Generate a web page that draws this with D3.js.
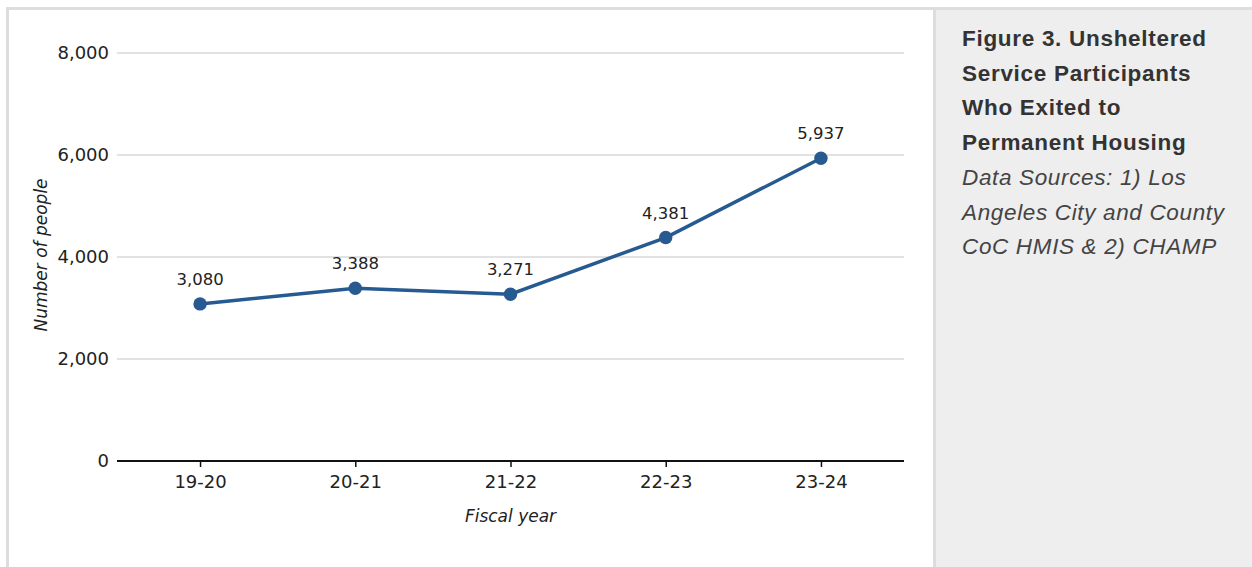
<!DOCTYPE html>
<html><head><meta charset="utf-8">
<script src="https://cdn.jsdelivr.net/npm/d3@7"></script>
<style>
html,body{margin:0;padding:0;background:#fff;}
svg{display:block;}
</style></head>
<body>
<svg id="c" width="1252" height="567"></svg>
<script>
const categories = ["19-20","20-21","21-22","22-23","23-24"];
const values = [3080, 3388, 3271, 4381, 5937];
const yTicks = [0, 2000, 4000, 6000, 8000];
const titleLines = ["Figure 3. Unsheltered","Service Participants","Who Exited to","Permanent Housing"];
const sourceLines = ["Data Sources: 1) Los","Angeles City and County","CoC HMIS & 2) CHAMP"];

const svg = d3.select("#c");
// frame
svg.append("rect").attr("x",0).attr("y",0).attr("width",1252).attr("height",567).attr("fill","#fff");
svg.append("rect").attr("x",935).attr("y",9).attr("width",317).attr("height",558).attr("fill","#eeeeee");
svg.append("rect").attr("x",6).attr("y",7).attr("width",1246).attr("height",3).attr("fill","#dddddd");
svg.append("rect").attr("x",6).attr("y",7).attr("width",3).attr("height",560).attr("fill","#dddddd");
svg.append("rect").attr("x",933).attr("y",7).attr("width",3).attr("height",560).attr("fill","#dddddd");

const x = d3.scalePoint().domain(categories).range([117,904]).padding(0.535);
const y = d3.scaleLinear().domain([0,8000]).range([461,53]);

const font = "'DejaVu Sans', sans-serif";
// gridlines
svg.append("g").selectAll("line").data(yTicks.filter(d=>d>0)).join("line")
  .attr("x1",117).attr("x2",904).attr("y1",d=>y(d)).attr("y2",d=>y(d))
  .attr("stroke","#e2e2e2").attr("stroke-width",2);

// y axis
const yAxis = d3.axisLeft(y).tickValues(yTicks).tickSize(0).tickPadding(8).tickFormat(d3.format(","));
const gy = svg.append("g").attr("transform","translate(117,0)").call(yAxis);
gy.select(".domain").remove();
gy.selectAll("text").attr("font-family",font).attr("font-size",18).attr("fill","#222");

// x axis
const xAxis = d3.axisBottom(x).tickSize(6).tickPadding(8);
const gx = svg.append("g").attr("transform","translate(0,461)").call(xAxis);
gx.select(".domain").attr("stroke","#111").attr("stroke-width",2).attr("d","M117,0H904");
gx.selectAll(".tick line").attr("stroke","#111").attr("stroke-width",1.5);
gx.selectAll("text").attr("font-family",font).attr("font-size",18).attr("fill","#222");

// axis labels
svg.append("text").attr("x",x(categories[2])).attr("y",522).attr("text-anchor","middle")
  .attr("font-family",font).attr("font-size",17).attr("font-style","italic").attr("fill","#222").text("Fiscal year");
svg.append("text").attr("transform","translate(47,255) rotate(-90)").attr("text-anchor","middle")
  .attr("font-family",font).attr("font-size",17).attr("font-style","italic").attr("fill","#222").text("Number of people");

// line
const color = "#265a91";
const line = d3.line().x((d,i)=>x(categories[i])).y(d=>y(d));
svg.append("path").datum(values).attr("d",line).attr("fill","none").attr("stroke",color).attr("stroke-width",3.5);
svg.append("g").selectAll("circle").data(values).join("circle")
  .attr("cx",(d,i)=>x(categories[i])).attr("cy",d=>y(d)).attr("r",6.7).attr("fill",color);
svg.append("g").selectAll("text").data(values).join("text")
  .attr("x",(d,i)=>x(categories[i])).attr("y",d=>y(d)-19).attr("text-anchor","middle")
  .attr("font-family",font).attr("font-size",16.5).attr("fill","#222").text(d=>d3.format(",")(d));

// side panel text
const tf = "'Liberation Sans', Arial, Helvetica, sans-serif";
svg.append("g").selectAll("text").data(titleLines).join("text")
  .attr("x",962).attr("y",(d,i)=>46+i*34.7).attr("font-family",tf).attr("font-size",22.5)
  .attr("letter-spacing",0.7).attr("font-weight","bold").attr("fill","#333").text(d=>d);
svg.append("g").selectAll("text").data(sourceLines).join("text")
  .attr("x",962).attr("y",(d,i)=>185+i*34.7).attr("font-family",tf).attr("font-size",22.5)
  .attr("letter-spacing",0.65).attr("font-style","italic").attr("fill","#444").text(d=>d);
</script>
</body></html>
